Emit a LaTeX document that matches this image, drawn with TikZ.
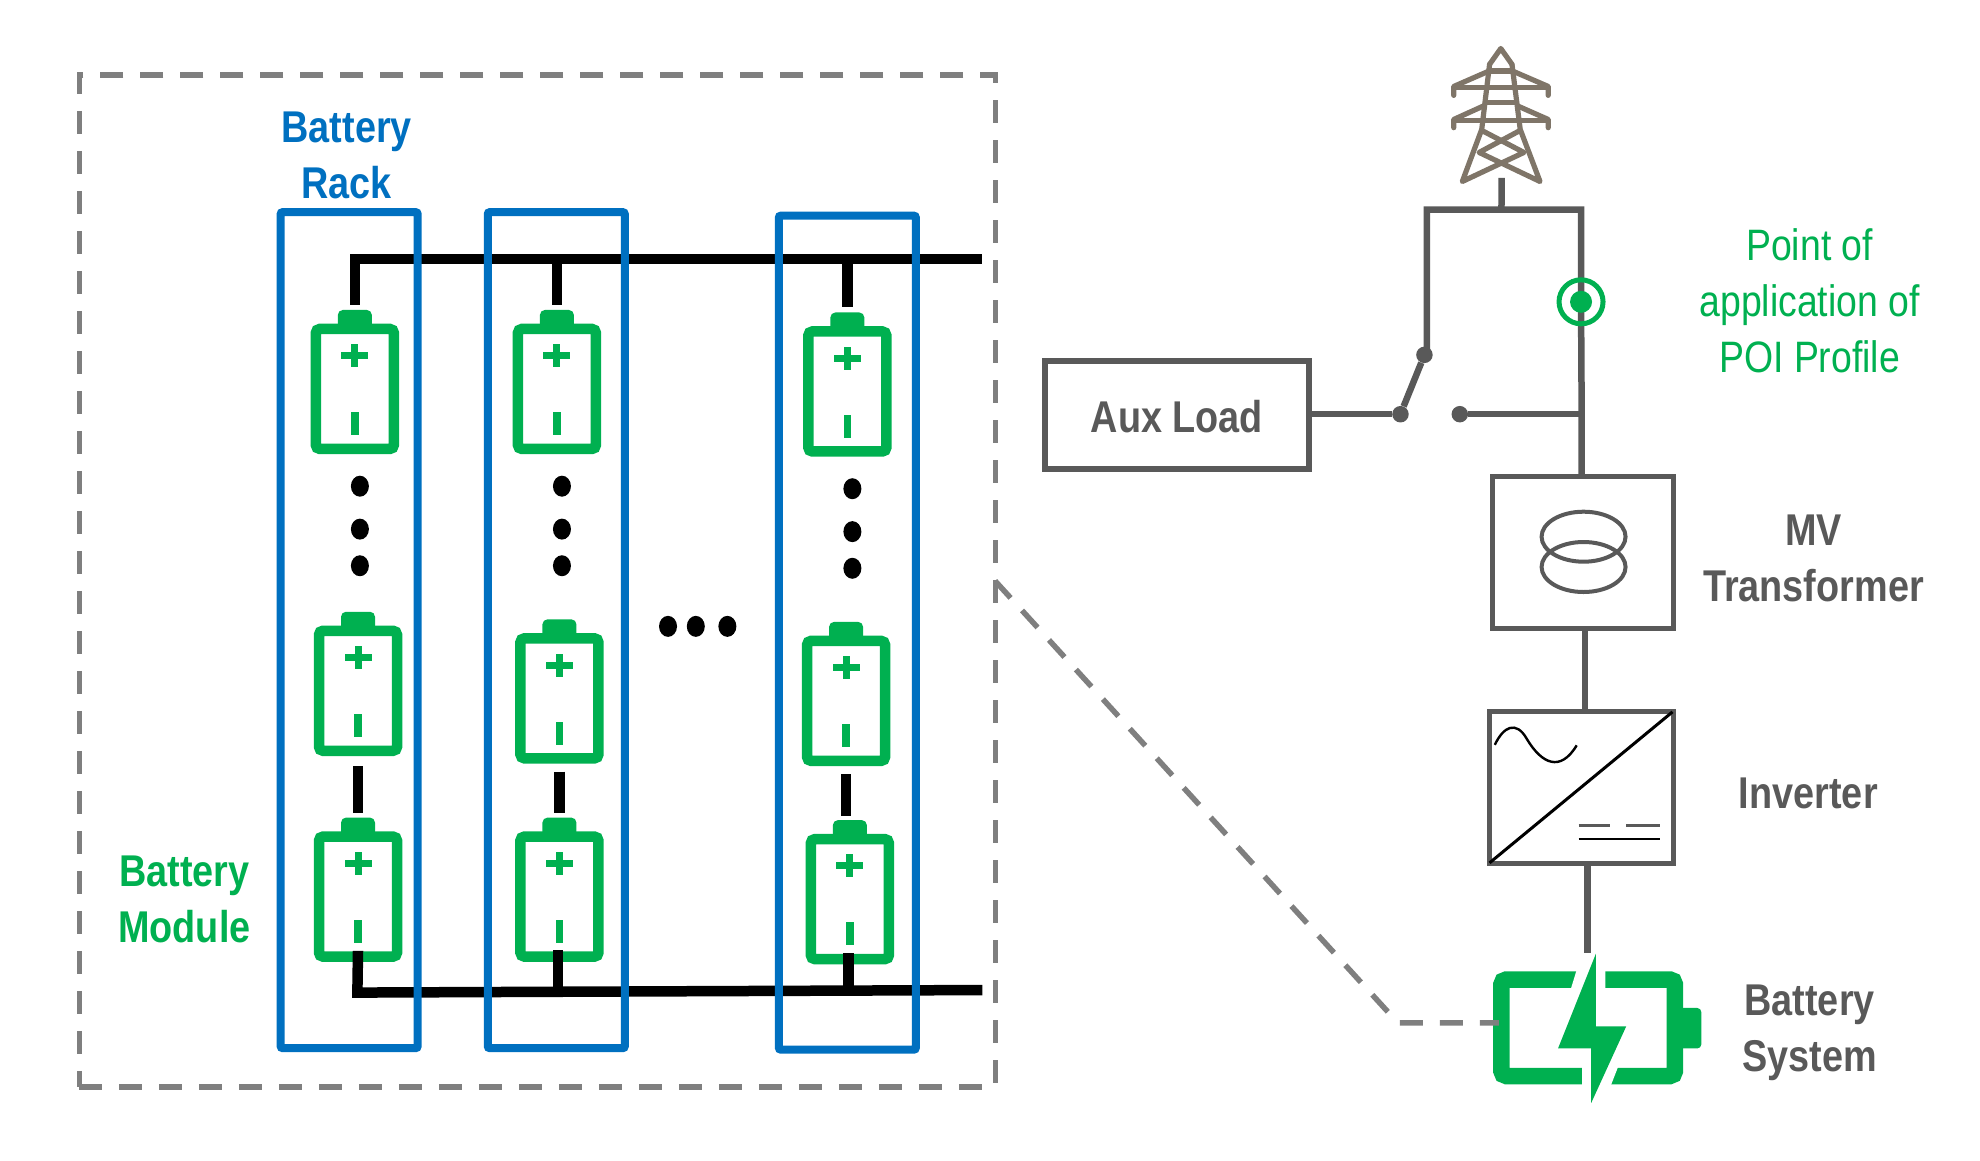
\documentclass[tikz,border=0pt]{standalone}
\usepackage{fontspec}
\setmainfont[FakeStretch=0.85]{Liberation Sans}
\definecolor{bgreen}{HTML}{00B050}
\definecolor{bblue}{HTML}{0070C0}
\definecolor{dgray}{HTML}{595959}
\definecolor{dashgray}{HTML}{7F7F7F}
\definecolor{towergray}{HTML}{7F7568}
\tikzset{
  lab/.style={inner sep=0pt,align=center,font=\fontsize{44}{56}\selectfont},
  blab/.style={lab,font=\fontsize{44.5}{56}\selectfont\bfseries},
  rackbox/.style={draw=bblue,line width=8pt,rounded corners=2pt,minimum width=137pt,inner sep=0pt},
  battbody/.style={draw=bgreen,line width=10.5pt,rounded corners=4pt,minimum width=78pt,minimum height=120pt,inner sep=0pt,fill=white},
  bus/.style={line width=10.5pt,black},
  feed/.style={line width=6.5pt,dgray},
  dashline/.style={line width=5.5pt,dashgray,dash pattern=on 23pt off 17pt},
  equip/.style={draw=dgray,line width=5pt,inner sep=0pt},
  term/.style={circle,fill=dgray,inner sep=0pt,minimum size=16.5pt},
  towerline/.style={line width=5.2pt,towergray,line cap=round,line join=round},
}
\newcommand{\batt}[3]{%
  \fill[bgreen,rounded corners=5pt] (#2,#3) ++(-17pt,60pt) -- ++(0,19pt) -- ++(34pt,0) -- ++(0,-19pt) -- cycle;
  \node[battbody] (#1) at (#2,#3) {};
  \fill[bgreen] ([yshift=-32pt]#1.north) ++(-13.5pt,-3.5pt) rectangle ++(27pt,7pt);
  \fill[bgreen] ([yshift=-32pt]#1.north) ++(-3.5pt,-11.5pt) rectangle ++(7pt,23pt);
  \fill[bgreen] ([yshift=-100pt]#1.north) ++(-3.8pt,-11.5pt) rectangle ++(7.6pt,23pt);
}
\begin{document}
\begin{tikzpicture}[x=1pt,y=-1pt]
\useasboundingbox (0,0) rectangle (1980,1160);
\begin{scope}[x=1.2628pt,y=-1.2628pt]
% outer dashed frame
\node[draw=dashgray,line width=5.5pt,dash pattern=on 23pt off 17pt,minimum width=916pt,minimum height=1012pt,inner sep=0pt] (frame) at (425.5,460) {};

% bus coordinates
\coordinate (ts) at (281,205);
\coordinate (te) at (778,205);
\coordinate (bs) at (283,786);
\coordinate (be) at (778,784);
\coordinate (t2) at (441,205);
\coordinate (t3) at (671,205);
\coordinate (b2) at (442,785);
\coordinate (b3) at (672,784);

% batteries
\batt{a1}{281}{308}
\batt{a2}{283.5}{547}
\batt{a3}{283.5}{710}
\batt{c1}{441}{308}
\batt{c2}{443}{553}
\batt{c3}{443}{710}
\batt{d1}{671}{310}
\batt{d2}{670}{555}
\batt{d3}{673}{712}

% buses and stubs
\draw[bus,line join=miter] ([yshift=19pt]a1.north) -- (ts) -- (te);
\draw[bus] (t2) -- ([yshift=19pt]c1.north);
\draw[bus] (t3) -- ([yshift=19pt]d1.north);
\draw[bus,line join=miter] ([yshift=11pt]a3.south) -- (bs) -- (be);
\draw[bus] (b2 |- c3.south) ++(0,-9) -- (b2);
\draw[bus] (b3 |- d3.south) ++(0,-9) -- (b3);
\draw[bus] ([yshift=-10pt]a2.south) -- ([yshift=18pt]a3.north);
\draw[bus] ([yshift=-8pt]c2.south) -- ([yshift=18pt]c3.north);
\coordinate (dl) at (670,0);
\draw[bus] ([yshift=-8pt]d2.south) -- ([yshift=18pt]dl |- d3.north);

% racks
\node[rackbox,minimum height=836pt] (r1) at (276.5,499) {};
\node[rackbox,minimum height=836pt] (r2) at (440.5,499) {};
\node[rackbox,minimum height=834pt] (r3) at (671,501) {};

% ellipsis dots
\foreach \px/\py in {285/385,285/419,285/448,445/385,445/419,445/448,675/387,675/421,675/450,529/496,551/496,576/496}
  \fill[black] (\px,\py) ellipse (9pt and 10.5pt);

% labels left
\node[blab,text=bblue] (lrack) at (274.5,123) {Battery\\Rack};
\node[blab,text=bgreen] (lmod) at (146,712) {Battery\\Module};

% right side equipment
\node[equip,line width=6pt,minimum width=264pt,minimum height=108pt] (aux) at (932,329) {};
\node[blab,text=dgray] (auxt) at (932,330) {Aux Load};
\node[equip,minimum width=181pt,minimum height=152pt] (tr) at (1253.5,437.5) {};
\node[equip,minimum width=184pt,minimum height=152pt] (inv) at (1252,623.5) {};

% transformer coils
\draw[dgray,line width=4pt] (1254,425) ellipse (42pt and 25pt);
\draw[dgray,line width=4pt] (1254,449) ellipse (42pt and 25pt);

% inverter symbol
\draw[black,line width=3pt] (inv.north east) ++(-3pt,-3pt) -- ([xshift=3pt,yshift=3pt]inv.south west);
\begin{scope}[shift={(inv.north west)},x=184pt,y=-152pt]
\draw[black,line width=2.4pt] (.045,.237) .. controls (.09,.12) and (.16,.07) .. (.22,.2) .. controls (.30,.36) and (.40,.42) .. (.49,.24);
\draw[dgray,line width=2.8pt] (.50,.765) -- (.67,.765) (.76,.765) -- (.945,.765);
\draw[black,line width=2.6pt] (.50,.855) -- (.945,.855);
\end{scope}

% tower
\begin{scope}[shift={(1107.7,17.5)},x=.3735pt,y=-.33pt]
\draw[towerline] (243,128) -- (273,80) -- (303,128);
\draw[towerline] (243,128) -- (222,325) -- (170,483) -- (335,395) -- (225,330);
\draw[towerline] (303,128) -- (325,325) -- (378,483) -- (215,395) -- (322,330);
\draw[towerline] (238,150) -- (147,195) -- (147,222);
\draw[towerline] (308,150) -- (400,195) -- (400,222);
\draw[towerline] (147,197) -- (400,197);
\draw[towerline] (243,148) -- (303,148);
\draw[towerline] (232,243) -- (315,243);
\draw[towerline] (225,255) -- (147,295) -- (147,320);
\draw[towerline] (320,255) -- (400,295) -- (400,320);
\draw[towerline] (147,297) -- (400,297);
\coordinate (towerfoot) at (275,472);
\end{scope}

% feeders
\coordinate (busL) at (1130,166);
\coordinate (busC) at (1189,166);
\coordinate (busR) at (1252,166);
\coordinate (swpivot) at (1130,281);
\node[term] (sw1) at (1128,281) {};
\node[term] (sw2) at (1109,328) {};
\node[term] (sw3) at (1156,328) {};
\coordinate (j) at (1252.5,328);
\coordinate (poi) at (1252,239);
\draw[feed] (towerfoot) -- (busC);
\draw[feed,line join=miter] (swpivot) -- (busL) -- (busR) -- (poi) -- (j) -- (j |- tr.north);
\draw[feed] (aux.east |- sw2) -- (sw2);
\draw[feed] (sw2) -- (sw1);
\draw[feed] (sw3) -- (j);
\coordinate (tv) at (1255,0);
\draw[feed] (tv |- tr.south) -- (tv |- inv.north);

% POI marker
\draw[bgreen,line width=5pt] (poi) circle (22pt);
\fill[bgreen] (poi) circle (11pt);

% battery system
\begin{scope}[shift={(1113.5,553.9)},x=.3608pt,y=-.3164pt]
\draw[bgreen,line width=16.5pt,rounded corners=5pt] (264,885) rectangle (745,1190);
\fill[bgreen,rounded corners=4pt] (750,975) -- (818,975) -- (818,1103) -- (750,1103) -- cycle;
\fill[white] (490,790) -- (552,790) -- (552,1000) -- (640,1010) -- (585,1168) -- (540,1300) -- (488,1300) -- (488,1130) -- (400,1125) -- cycle;
\fill[bgreen] (526,803) -- (421,1103) -- (513,1103) -- (513,1275) -- (610,1033) -- (526,1033) -- cycle;
\coordinate (bolttop) at (506,800);
\end{scope}
\coordinate (bv) at (1257,0);
\draw[feed] (bv |- inv.south) -- (bv |- bolttop);

% zoom dashed callout
\coordinate (z1) at (788,460);
\coordinate (z2) at (1107,810);
\coordinate (z3) at (1187,810);
\draw[dashline,line join=miter] (z1) -- (z2) -- (z3);

% labels right
\node[lab,text=bgreen] (lpoi) at (1433,238) {Point of\\application of\\POI Profile};
\node[blab,text=dgray] (lmv) at (1436,442) {MV\\Transformer};
\node[blab,text=dgray] (linv) at (1432,628.5) {Inverter};
\node[blab,text=dgray] (lsys) at (1433,818) {Battery\\System};
\end{scope}
\end{tikzpicture}
\end{document}
